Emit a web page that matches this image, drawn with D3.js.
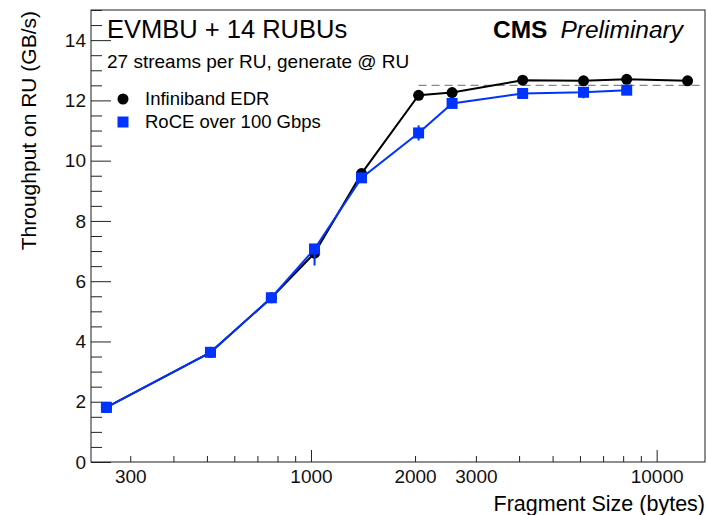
<!DOCTYPE html>
<html>
<head>
<meta charset="utf-8">
<script src="https://cdn.jsdelivr.net/npm/d3@7"></script>
<style>
  body { margin: 0; background: #fff; }
  svg { font-family: "Liberation Sans", Arial, sans-serif; }
  .axis path { stroke: #222; }
  .axis line { stroke: #222; }
  .axis text { font-size: 19px; fill: #111; }
</style>
</head>
<body>
<script>
// Data
var sizes = [256, 512, 768, 1024, 1400, 2048, 2560, 4096, 6144, 8192, 12288];
var ibThroughput = [1.81, 3.64, 5.45, 6.93, 9.57, 12.17, 12.26, 12.67, 12.65, 12.70, 12.65];
var roceSizes = [256, 512, 768, 1024, 1400, 2048, 2560, 4096, 6144, 8192];
var roceThroughput = [1.81, 3.64, 5.45, 7.07, 9.43, 10.92, 11.90, 12.23, 12.27, 12.34];
var roceErrLow = [0, 0, 0, 0.55, 0, 0.25, 0, 0, 0.2, 0];
var roceErrHigh = [0, 0, 0, 0, 0, 0.25, 0, 0, 0, 0];
var limitLevel = 12.5;
var xTickLabels = [300, 1000, 2000, 3000, 10000];
var xMajorTicks = [1000, 10000];
var yTickLabels = [0, 2, 4, 6, 8, 10, 12, 14];

var W = 707, H = 515;
var frame = { left: 91, right: 705, top: 10, bottom: 462 };

var x = d3.scaleLog().domain([231, 13800]).range([frame.left, frame.right]);
var y = d3.scaleLinear().domain([0, 15]).range([frame.bottom, frame.top]);

var svg = d3.select('body').append('svg')
	.attr('width', W)
	.attr('height', H);

// Frame
svg.append('rect')
	.attr('x', frame.left)
	.attr('y', frame.top)
	.attr('width', frame.right - frame.left)
	.attr('height', frame.bottom - frame.top)
	.attr('fill', 'none')
	.attr('stroke', '#444')
	.attr('stroke-width', 1.2);

// Minor x ticks (all decades 300..13000)
var xMinor = [];
[100, 1000, 10000].forEach(function(dec) {
	for (var k = 1; k <= 9; k++) {
		var v = dec * k;
		if (v > 231 && v < 13800 && xMajorTicks.indexOf(v) < 0) xMinor.push(v);
	}
});

svg.append('g')
	.attr('class', 'axis')
	.attr('transform', 'translate(0,' + frame.bottom + ')')
	.call(d3.axisBottom(x).tickValues(xMinor).tickSize(-6).tickFormat(''))
	.call(g => g.select('.domain').remove());

svg.append('g')
	.attr('class', 'axis')
	.attr('transform', 'translate(0,' + frame.bottom + ')')
	.call(d3.axisBottom(x).tickValues(xMajorTicks).tickSize(-12).tickFormat(''))
	.call(g => g.select('.domain').remove());

// x labels
svg.append('g')
	.attr('class', 'axis')
	.attr('transform', 'translate(0,' + frame.bottom + ')')
	.call(d3.axisBottom(x).tickValues(xTickLabels).tickSize(0).tickPadding(8).tickFormat(d3.format('d')))
	.call(g => g.select('.domain').remove());

// y ticks
var yMinor = d3.range(0, 15.01, 0.5).filter(v => v % 2 !== 0);
svg.append('g')
	.attr('class', 'axis')
	.attr('transform', 'translate(' + frame.left + ',0)')
	.call(d3.axisLeft(y).tickValues(yMinor).tickSize(-11).tickFormat(''))
	.call(g => g.select('.domain').remove());

svg.append('g')
	.attr('class', 'axis')
	.attr('transform', 'translate(' + frame.left + ',0)')
	.call(d3.axisLeft(y).tickValues(yTickLabels).tickSize(-20).tickPadding(5).tickFormat(d3.format('d')))
	.call(g => g.select('.domain').remove());

// Axis titles
svg.append('text')
	.attr('x', frame.right)
	.attr('y', 511)
	.attr('text-anchor', 'end')
	.style('font-size', '21.5px')
	.text('Fragment Size (bytes)');

svg.append('text')
	.attr('transform', 'translate(36,' + (frame.top + 1) + ') rotate(-90)')
	.attr('text-anchor', 'end')
	.style('font-size', '21px')
	.text('Throughput on RU (GB/s)');

// Dashed reference level
svg.append('line')
	.attr('x1', x(2048))
	.attr('x2', frame.right)
	.attr('y1', y(limitLevel))
	.attr('y2', y(limitLevel))
	.attr('stroke', '#888')
	.attr('stroke-width', 1.3)
	.attr('stroke-dasharray', '8,5');

var blue = '#0033ff';

var line = d3.line().x(d => x(d.s)).y(d => y(d.v));

var ib = sizes.map((s, i) => ({ s: s, v: ibThroughput[i] }));
var roce = roceSizes.map((s, i) => ({ s: s, v: roceThroughput[i], lo: roceErrLow[i], hi: roceErrHigh[i] }));

svg.append('path')
	.datum(ib)
	.attr('d', line)
	.attr('fill', 'none')
	.attr('stroke', '#000')
	.attr('stroke-width', 2);

svg.selectAll('circle.ib')
	.data(ib)
	.enter()
	.append('circle')
	.attr('class', 'ib')
	.attr('cx', d => x(d.s))
	.attr('cy', d => y(d.v))
	.attr('r', 5.5)
	.attr('fill', '#000');

svg.append('path')
	.datum(roce)
	.attr('d', line)
	.attr('fill', 'none')
	.attr('stroke', blue)
	.attr('stroke-width', 2);

svg.selectAll('line.err')
	.data(roce.filter(d => d.lo > 0 || d.hi > 0))
	.enter()
	.append('line')
	.attr('class', 'err')
	.attr('x1', d => x(d.s))
	.attr('x2', d => x(d.s))
	.attr('y1', d => y(d.v - d.lo))
	.attr('y2', d => y(d.v + d.hi))
	.attr('stroke', blue)
	.attr('stroke-width', 2);

svg.selectAll('rect.roce')
	.data(roce)
	.enter()
	.append('rect')
	.attr('class', 'roce')
	.attr('x', d => x(d.s) - 5.5)
	.attr('y', d => y(d.v) - 5.5)
	.attr('width', 11)
	.attr('height', 11)
	.attr('fill', blue);

// Texts in the frame
svg.append('text')
	.attr('x', 107)
	.attr('y', 38)
	.style('font-size', '25.5px')
	.text('EVMBU + 14 RUBUs');

svg.append('text')
	.attr('x', 107)
	.attr('y', 68)
	.style('font-size', '19px')
	.text('27 streams per RU, generate @ RU');

var cms = svg.append('text')
	.attr('x', 683)
	.attr('y', 38)
	.attr('text-anchor', 'end')
	.style('font-size', '24.5px');
cms.append('tspan').style('font-weight', 'bold').text('CMS');
cms.append('tspan').attr('dx', 13).style('font-style', 'italic').text('Preliminary');

// Legend
svg.append('circle')
	.attr('cx', 123)
	.attr('cy', 99)
	.attr('r', 5.5)
	.attr('fill', '#000');
svg.append('text')
	.attr('x', 145)
	.attr('y', 105)
	.style('font-size', '18.5px')
	.text('Infiniband EDR');

svg.append('rect')
	.attr('x', 117.5)
	.attr('y', 116.5)
	.attr('width', 11)
	.attr('height', 11)
	.attr('fill', blue);
svg.append('text')
	.attr('x', 145)
	.attr('y', 128)
	.style('font-size', '18.5px')
	.text('RoCE over 100 Gbps');
</script>
</body>
</html>
